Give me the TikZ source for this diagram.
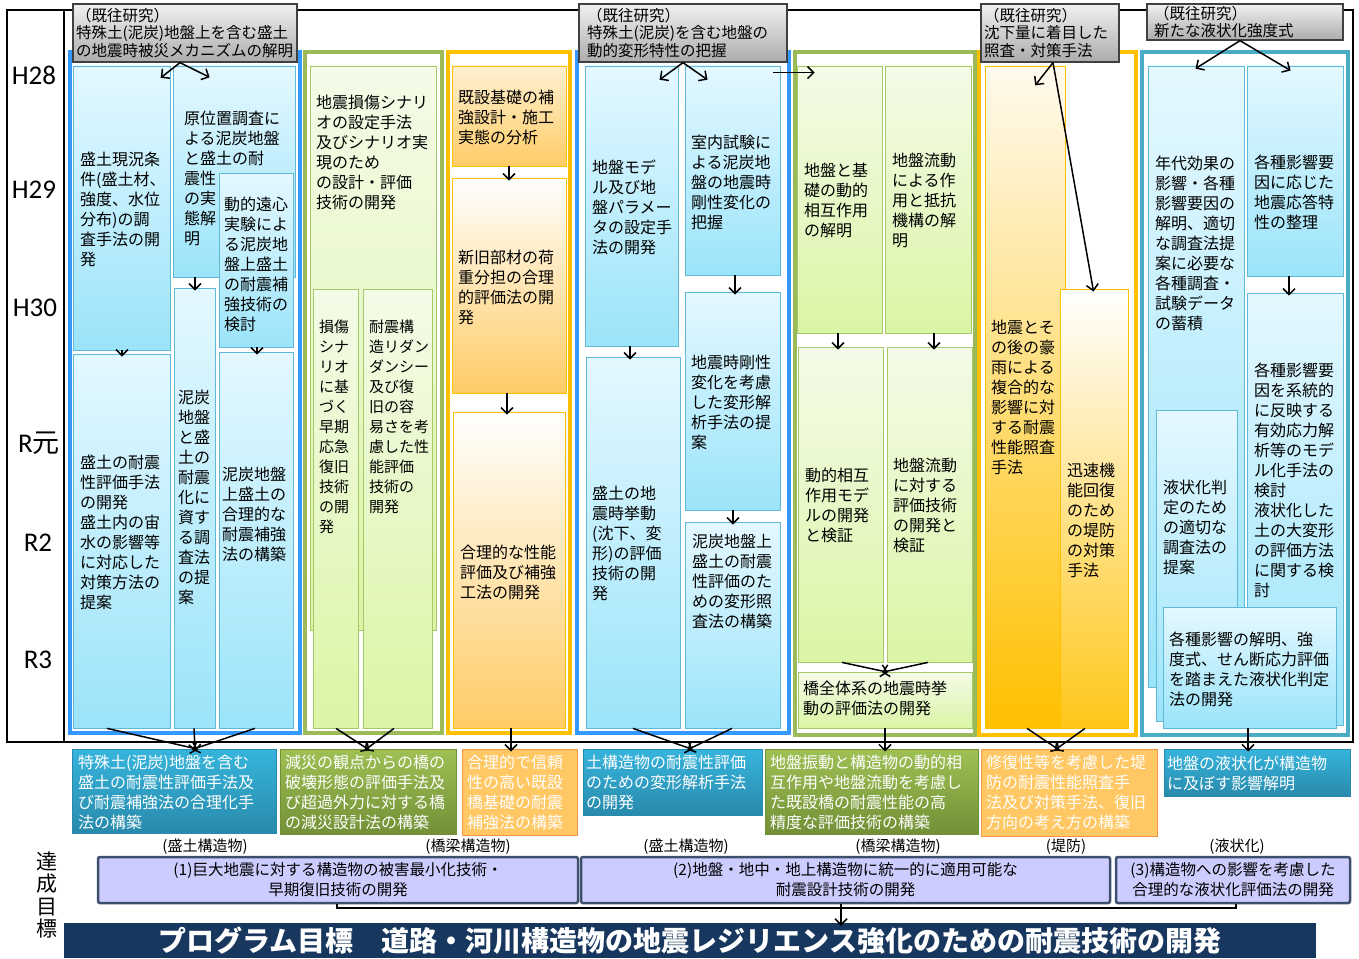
\documentclass[tikz,border=0pt]{standalone}
\usepackage{fontspec}
\setmainfont{Noto Sans CJK JP}
\newfontfamily\yearfont{Carlito}
\usetikzlibrary{fit,arrows.meta}

\definecolor{colblue}{RGB}{51,153,255}
\definecolor{colgreen}{RGB}{155,187,89}
\definecolor{colorange}{RGB}{255,192,0}
\definecolor{colteal}{RGB}{75,172,198}
\definecolor{bluetop}{RGB}{228,248,255}
\definecolor{bluebot}{RGB}{155,228,250}
\definecolor{blueline}{RGB}{95,185,215}
\definecolor{greentop}{RGB}{244,251,232}
\definecolor{greenbot}{RGB}{218,245,165}
\definecolor{greenline}{RGB}{165,200,105}
\definecolor{orangetop}{RGB}{255,250,238}
\definecolor{orangebot}{RGB}{255,204,102}
\definecolor{deeporange}{RGB}{255,192,0}
\definecolor{graytop}{RGB}{240,240,240}
\definecolor{graybot}{RGB}{172,172,172}
\definecolor{resteal1}{RGB}{55,180,220}
\definecolor{resteal2}{RGB}{40,138,172}
\definecolor{resgreen1}{RGB}{158,192,84}
\definecolor{resgreen2}{RGB}{114,144,54}
\definecolor{resorange}{RGB}{255,200,100}
\definecolor{resorangeline}{RGB}{247,150,70}
\definecolor{goalfill}{RGB}{204,204,255}
\definecolor{goalline}{RGB}{60,80,110}
\definecolor{navy}{RGB}{23,55,94}

\tikzset{
  colbox/.style={inner sep=0pt, line width=4pt},
  cell/.style={inner sep=0pt, line width=0.8pt},
  bluecell/.style={cell, draw=blueline, top color=bluetop, bottom color=bluebot},
  greencell/.style={cell, draw=greenline, top color=greentop, bottom color=greenbot},
  orangecell/.style={cell, draw=colorange, top color=orangetop, bottom color=orangebot},
  prevbox/.style={inner sep=0pt, line width=1.3pt, draw=black!75, top color=graytop, bottom color=graybot},
  txt/.style={font=\fontsize{16}{20}\selectfont, align=left, inner sep=0pt, anchor=west},
  prevtxt/.style={font=\fontsize{15.5}{17.5}\selectfont, align=left, inner sep=0pt, anchor=west},
  res/.style={inner sep=0pt, line width=1pt},
  restxt/.style={txt, text=white},
  goal/.style={inner sep=0pt, line width=2.5pt, draw=goalline, fill=goalfill, rounded corners=2pt},
  yr/.style={font=\yearfont\fontsize{27}{27}\selectfont, inner sep=0pt},
  arr/.style={-{Straight Barb[length=6pt,width=12pt]}, line width=1.5pt, shorten >=-3pt},
}

\begin{document}
\begin{tikzpicture}[x=1pt, y=-1pt]
  \useasboundingbox (0,0) rectangle (1359,958);

  % frame and years
  \draw[line width=1.5pt] (7,10) rectangle (1353,742);
  \draw[line width=1.5pt] (64,10) -- (64,742);
  \node[yr] (h28) at (34,75) {H28};
  \node[yr] (h29) at (34,190) {H29};
  \node[yr] (h30) at (35,308) {H30};
  \node[yr] (r1) at (39,443) {R{\rmfamily 元}};
  \node[yr] (r2) at (38,543) {R2};
  \node[yr] (r3) at (38,660) {R3};

  % columns
  \node[colbox, draw=colblue, fit={(70,52) (300,733)}] (col1) {};
  \node[colbox, draw=colgreen, fit={(305,52) (442,733)}] (col2) {};
  \node[colbox, draw=colorange, fit={(448,52) (570,733)}] (col3) {};
  \node[colbox, draw=colblue, fit={(577,52) (789,733)}] (col4) {};
  \node[colbox, draw=colgreen, fit={(795,52) (975,735)}] (col5) {};
  \node[colbox, draw=colorange, fit={(979,52) (1136,735)}] (col6) {};
  \node[colbox, draw=colteal, fit={(1142,52) (1348,735)}] (col7) {};

  % earlier studies
  \node[prevbox, fit={(73,4) (297,62)}] (prev1) {};
  \node[prevtxt] (prev1t) at (76,33) {（既往研究）\\特殊土(泥炭)地盤上を含む盛土\\の地震時被災メカニズムの解明};
  \node[prevbox, fit={(579,4) (787,62)}] (prev2) {};
  \node[prevtxt] (prev2t) at (587,33) {（既往研究）\\特殊土(泥炭)を含む地盤の\\動的変形特性の把握};
  \node[prevbox, fit={(981,4) (1119,62)}] (prev3) {};
  \node[prevtxt] (prev3t) at (984,33) {（既往研究）\\沈下量に着目した\\照査・対策手法};
  \node[prevbox, fit={(1147,4) (1343,40)}] (prev4) {};
  \node[prevtxt] (prev4t) at (1154,22) {（既往研究）\\新たな液状化強度式};

  % column 1
  \node[bluecell, fit={(73,66) (170,350)}] (a1) {};
  \node[txt] (a1t) at (80,209) {盛土現況条\\件(盛土材、\\強度、水位\\分布)の調\\査手法の開\\発};
  \node[bluecell, fit={(173,66) (295,277)}] (a2) {};
  \node[txt] (a2t) at (184,178) {原位置調査に\\よる泥炭地盤\\と盛土の耐\\震性\\の実\\態解\\明};
  \node[bluecell, fit={(219,173) (293,347)}] (a3) {};
  \node[txt] (a3t) at (224,264) {動的遠心\\実験によ\\る泥炭地\\盤上盛土\\の耐震補\\強技術の\\検討};
  \node[bluecell, fit={(174,288) (215,728)}] (a4) {};
  \node[txt] (a4t) at (178,497) {泥炭\\地盤\\と盛\\土の\\耐震\\化に\\資す\\る調\\査法\\の提\\案};
  \node[bluecell, fit={(73,354) (170,728)}] (a5) {};
  \node[txt] (a5t) at (80,532) {盛土の耐震\\性評価手法\\の開発\\盛土内の宙\\水の影響等\\に対応した\\対策方法の\\提案};
  \node[bluecell, fit={(219,352) (293,728)}] (a6) {};
  \node[txt] (a6t) at (222,514) {泥炭地盤\\上盛土の\\合理的な\\耐震補強\\法の構築};

  % column 2
  \node[greencell, fit={(310,66) (436,630)}] (c1) {};
  \node[txt] (c1t) at (316,152) {地震損傷シナリ\\オの設定手法\\及びシナリオ実\\現のため\\の設計・評価\\技術の開発};
  \node[greencell, fit={(313,289) (358,728)}] (c2) {};
  \node[txt, font=\fontsize{15}{20}\selectfont] (c2t) at (319,427) {損傷\\シナ\\リオ\\に基\\づく\\早期\\応急\\復旧\\技術\\の開\\発};
  \node[greencell, fit={(363,289) (432,728)}] (c3) {};
  \node[txt, font=\fontsize{15}{20}\selectfont] (c3t) at (369,417) {耐震構\\造リダン\\ダンシー\\及び復\\旧の容\\易さを考\\慮した性\\能評価\\技術の\\開発};

  % column 3
  \node[orangecell, top color=orangebot!30, fit={(452,66) (566,166)}] (d1) {};
  \node[txt] (d1t) at (458,117) {既設基礎の補\\強設計・施工\\実態の分析};
  \node[orangecell, top color=white, fit={(452,178) (566,393)}] (d2) {};
  \node[txt] (d2t) at (458,287) {新旧部材の荷\\重分担の合理\\的評価法の開\\発};
  \node[orangecell, top color=white, fit={(453,412) (565,728)}] (d3) {};
  \node[txt] (d3t) at (460,572) {合理的な性能\\評価及び補強\\工法の開発};

  % column 4
  \node[bluecell, fit={(585,66) (678,346)}] (e1) {};
  \node[txt] (e1t) at (592,207) {地盤モデ\\ル及び地\\盤パラメー\\タの設定手\\法の開発};
  \node[bluecell, fit={(685,66) (780,275)}] (e2) {};
  \node[txt] (e2t) at (691,182) {室内試験に\\よる泥炭地\\盤の地震時\\剛性変化の\\把握};
  \node[bluecell, fit={(685,292) (780,510)}] (e3) {};
  \node[txt] (e3t) at (691,402) {地震時剛性\\変化を考慮\\した変形解\\析手法の提\\案};
  \node[bluecell, fit={(586,357) (680,728)}] (e4) {};
  \node[txt] (e4t) at (592,543) {盛土の地\\震時挙動\\(沈下、変\\形)の評価\\技術の開\\発};
  \node[bluecell, fit={(685,522) (780,728)}] (e5) {};
  \node[txt] (e5t) at (692,581) {泥炭地盤上\\盛土の耐震\\性評価のた\\めの変形照\\査法の構築};

  % column 5
  \node[greencell, fit={(797,66) (882,333)}] (f1) {};
  \node[txt] (f1t) at (804,200) {地盤と基\\礎の動的\\相互作用\\の解明};
  \node[greencell, fit={(885,66) (971,333)}] (f2) {};
  \node[txt] (f2t) at (892,200) {地盤流動\\による作\\用と抵抗\\機構の解\\明};
  \node[greencell, fit={(798,347) (883,662)}] (f3) {};
  \node[txt] (f3t) at (805,505) {動的相互\\作用モデ\\ルの開発\\と検証};
  \node[greencell, fit={(887,347) (972,662)}] (f4) {};
  \node[txt] (f4t) at (893,505) {地盤流動\\に対する\\評価技術\\の開発と\\検証};
  \node[greencell, fit={(798,672) (972,728)}] (f5) {};
  \node[txt] (f5t) at (803,698) {橋全体系の地震時挙\\動の評価法の開発};

  % column 6
  \node[orangecell, top color=orangetop, bottom color=deeporange, fit={(985,66) (1065,728)}] (g1) {};
  \node[txt] (g1t) at (991,397) {地震とそ\\の後の豪\\雨による\\複合的な\\影響に対\\する耐震\\性能照査\\手法};
  \node[orangecell, top color=white, bottom color=deeporange!90, fit={(1060,289) (1128,728)}] (g2) {};
  \node[txt] (g2t) at (1067,520) {迅速機\\能回復\\のため\\の堤防\\の対策\\手法};

  % column 7
  \node[bluecell, fit={(1148,66) (1244,687)}] (h1) {};
  \node[txt] (h1t) at (1155,243) {年代効果の\\影響・各種\\影響要因の\\解明、適切\\な調査法提\\案に必要な\\各種調査・\\試験データ\\の蓄積};
  \node[bluecell, fit={(1247,66) (1343,276)}] (h2) {};
  \node[txt] (h2t) at (1254,192) {各種影響要\\因に応じた\\地震応答特\\性の整理};
  \node[bluecell, fit={(1247,293) (1343,725)}] (h3) {};
  \node[txt] (h3t) at (1254,480) {各種影響要\\因を系統的\\に反映する\\有効応力解\\析等のモデ\\ル化手法の\\検討\\液状化した\\土の大変形\\の評価方法\\に関する検\\討};
  \node[bluecell, fit={(1156,410) (1237,721)}] (h4) {};
  \node[txt] (h4t) at (1163,527) {液状化判\\定のため\\の適切な\\調査法の\\提案};
  \node[bluecell, fit={(1163,607) (1336,728)}] (h5) {};
  \node[txt] (h5t) at (1169,669) {各種影響の解明、強\\度式、せん断応力評価\\を踏まえた液状化判定\\法の開発};

  % results
  \node[res, draw=resteal2, top color=resteal1, bottom color=resteal2, fit={(72,749) (276,833)}] (b1) {};
  \node[restxt] (b1t) at (78,792) {特殊土(泥炭)地盤を含む\\盛土の耐震性評価手法及\\び耐震補強法の合理化手\\法の構築};
  \node[res, draw=resgreen2, top color=resgreen1, bottom color=resgreen2, fit={(280,749) (456,834)}] (b2) {};
  \node[restxt] (b2t) at (285,792) {減災の観点からの橋の\\破壊形態の評価手法及\\び超過外力に対する橋\\の減災設計法の構築};
  \node[res, draw=resorangeline, fill=resorange, fit={(462,749) (577,835)}] (b3) {};
  \node[restxt] (b3t) at (467,792) {合理的で信頼\\性の高い既設\\橋基礎の耐震\\補強法の構築};
  \node[res, draw=resteal2, top color=resteal1, bottom color=resteal2, fit={(583,749) (762,815)}] (b4) {};
  \node[restxt] (b4t) at (586,782) {土構造物の耐震性評価\\のための変形解析手法\\の開発};
  \node[res, draw=resgreen2, top color=resgreen1, bottom color=resgreen2, fit={(765,749) (978,834)}] (b5) {};
  \node[restxt] (b5t) at (770,792) {地盤振動と構造物の動的相\\互作用や地盤流動を考慮し\\た既設橋の耐震性能の高\\精度な評価技術の構築};
  \node[res, draw=resorangeline, fill=resorange, fit={(981,749) (1157,836)}] (b6) {};
  \node[restxt] (b6t) at (986,792) {修復性等を考慮した堤\\防の耐震性能照査手\\法及び対策手法、復旧\\方向の考え方の構築};
  \node[res, draw=resteal2, top color=resteal1, bottom color=resteal2, fit={(1164,749) (1350,796)}] (b7) {};
  \node[restxt] (b7t) at (1167,773) {地盤の液状化が構造物\\に及ぼす影響解明};

  % targets
  \node[font=\fontsize{15}{15}\selectfont] (lab1) at (205,847) {(盛土構造物)};
  \node[font=\fontsize{15}{15}\selectfont] (lab2) at (468,847) {(橋梁構造物)};
  \node[font=\fontsize{15}{15}\selectfont] (lab3) at (686,847) {(盛土構造物)};
  \node[font=\fontsize{15}{15}\selectfont] (lab4) at (898,847) {(橋梁構造物)};
  \node[font=\fontsize{15}{15}\selectfont] (lab5) at (1066,847) {(堤防)};
  \node[font=\fontsize{15}{15}\selectfont] (lab6) at (1237,847) {(液状化)};
  \node[goal, fit={(98,857) (578,903)}] (p1) {};
  \node[align=center, font=\fontsize{15.5}{20}\selectfont] (p1t) at (p1.center) {(1)巨大地震に対する構造物の被害最小化技術・\\早期復旧技術の開発};
  \node[goal, fit={(581,857) (1110,903)}] (p2) {};
  \node[align=center, font=\fontsize{15.5}{20}\selectfont] (p2t) at (p2.center) {(2)地盤・地中・地上構造物に統一的に適用可能な\\耐震設計技術の開発};
  \node[goal, fit={(1116,857) (1350,903)}] (p3) {};
  \node[align=center, font=\fontsize{15.5}{20}\selectfont] (p3t) at (p3.center) {(3)構造物への影響を考慮した\\合理的な液状化評価法の開発};
  \node[align=center, font=\fontsize{21}{22.5}\selectfont] (goalt) at (47,895) {達\\成\\目\\標};
  \node[inner sep=0pt, fill=navy, fit={(64,923) (1316,958)}] (banner) {};
  \node[text=white, font=\bfseries\fontsize{28}{28}\selectfont] (bannert) at (banner.center) {プログラム目標　道路・河川構造物の地震レジリエンス強化のための耐震技術の開発};

  % arrows
  \draw[arr] (180,0 |- prev1.south) -- (163,76);
  \draw[arr] (180,0 |- prev1.south) -- (207,76);
  \draw[arr] (122,0 |- a1.south) -- (122,0 |- a5.north);
  \draw[arr] (195,0 |- a2.south) -- (195,0 |- a4.north);
  \draw[arr] (257,0 |- a3.south) -- (257,0 |- a6.north);
  \draw[arr] (509,0 |- d1.south) -- (509,0 |- d2.north);
  \draw[arr] (507,0 |- d2.south) -- (507,0 |- d3.north);
  \draw[arr] (prev2.south) -- (662,78);
  \draw[arr] (prev2.south) -- (705,78);
  \draw[arr] (630,0 |- e1.south) -- (630,0 |- e4.north);
  \draw[arr] (735,0 |- e2.south) -- (735,0 |- e3.north);
  \draw[arr] (733,0 |- e3.south) -- (733,0 |- e5.north);
  \draw[arr] ([shift={(-7pt,-7pt)}]e2.north east) -- ([shift={(15pt,-7pt)}]f1.north west);
  \draw[arr] (838,0 |- f1.south) -- (838,0 |- f3.north);
  \draw[arr] (934,0 |- f2.south) -- (934,0 |- f4.north);
  \draw[arr] (842,0 |- f3.south) -- (885,0 |- f5.north);
  \draw[arr] (928,0 |- f4.south) -- (885,0 |- f5.north);
  \draw[arr] (1053,0 |- prev3.south) -- (1037,83);
  \draw[arr] (1053,0 |- prev3.south) -- (1093,0 |- g2.north);
  \draw[arr] (1240,0 |- prev4.south) -- (1198,67);
  \draw[arr] (1240,0 |- prev4.south) -- (1288,69);
  \draw[arr] (1289,0 |- h2.south) -- (1289,0 |- h3.north);

  \draw[arr] (107,0 |- a5.south) -- (195,0 |- b1.north);
  \draw[arr] (194,0 |- a4.south) -- (195,0 |- b1.north);
  \draw[arr] (255,0 |- a6.south) -- (195,0 |- b1.north);
  \draw[arr] (336,0 |- c2.south) -- (367,0 |- b2.north);
  \draw[arr] (394,0 |- c3.south) -- (367,0 |- b2.north);
  \draw[arr] (511,0 |- d3.south) -- (511,0 |- b3.north);
  \draw[arr] (633,0 |- e4.south) -- (690,0 |- b4.north);
  \draw[arr] (732,0 |- e5.south) -- (690,0 |- b4.north);
  \draw[arr] (885,0 |- f5.south) -- (885,0 |- b5.north);
  \draw[arr] (1027,0 |- g1.south) -- (1057,0 |- b6.north);
  \draw[arr] (1085,0 |- g2.south) -- (1057,0 |- b6.north);
  \draw[arr] (1248,0 |- h5.south) -- (1248,0 |- b7.north);

  \draw[line width=1.5pt] (337,0 |- p1.south) -- (337,908) -- (1236,908) -- (1236,0 |- p3.south);
  \draw[arr] (841,0 |- p2.south) -- (841,0 |- banner.north);
\end{tikzpicture}
\end{document}
